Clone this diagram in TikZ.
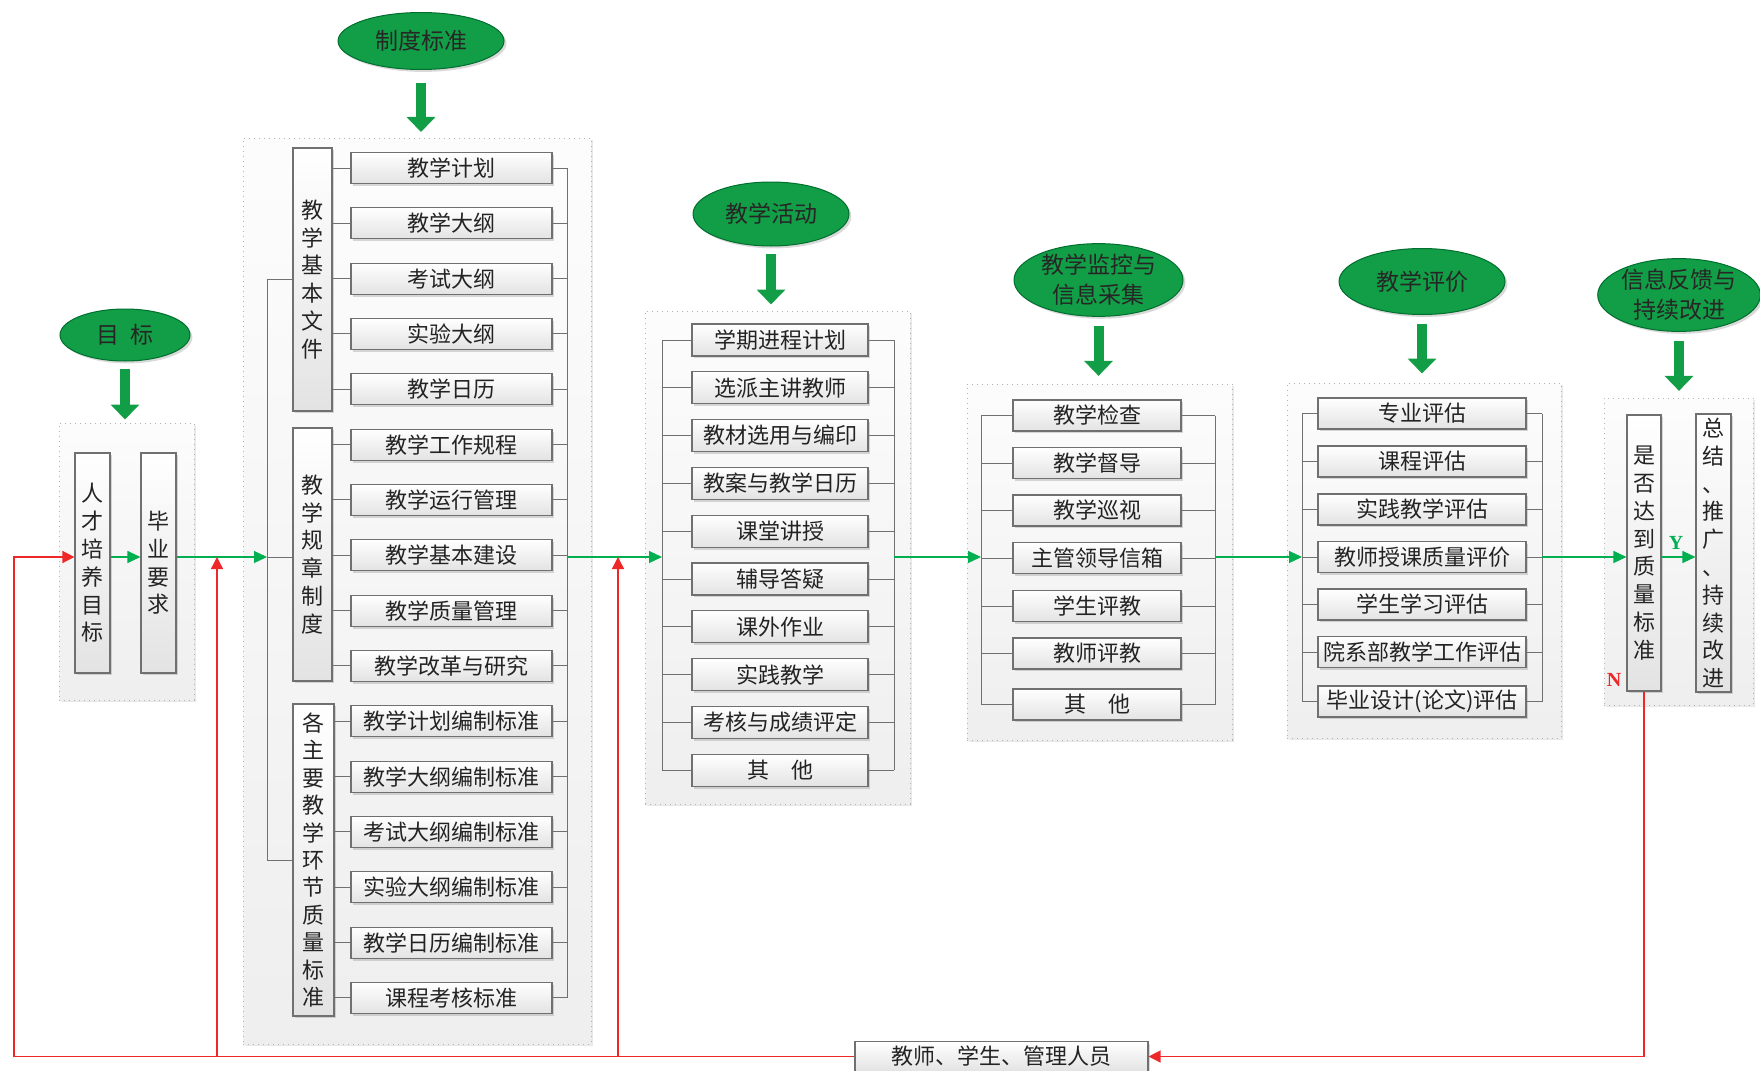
\documentclass[tikz,border=0pt]{standalone}
\usepackage{fontspec}
\setmainfont{Noto Sans CJK SC}
\newfontfamily\lser{Liberation Serif}
\usetikzlibrary{shapes.geometric,shadows,arrows.meta,calc}
\definecolor{eg}{RGB}{18,158,70}
\definecolor{egd}{RGB}{0,110,46}
\definecolor{gl}{RGB}{0,176,80}
\definecolor{bl}{RGB}{112,112,112}
\definecolor{rl}{RGB}{238,40,40}
\definecolor{txt}{RGB}{35,35,35}
\newcommand\fsz{\fontsize{11pt}{12pt}\selectfont}
\newcommand\vfsz{\fontsize{11pt}{13.9pt}\selectfont}
\newcommand\vfszb{\fontsize{11pt}{13.7pt}\selectfont}
\newcommand\efsz{\fontsize{11.5pt}{15pt}\selectfont}
\begin{document}
\begin{tikzpicture}[x=0.5pt,y=-0.5pt,
  wh/.style 2 args={minimum width=#1*0.5pt,minimum height=#2*0.5pt},
  box/.style={draw=bl,line width=0.55pt,top color=white,bottom color=gray!22,inner sep=0pt,text=txt,
    drop shadow={shadow xshift=1.2pt,shadow yshift=-1.2pt,opacity=0.3,fill=gray}},
  itembox/.style={box,font=\fsz},
  vbox/.style={box,font=\vfsz,align=center},
  cont/.style={draw=gray!60,dotted,line width=0.5pt,top color=gray!2,bottom color=gray!13,inner sep=0pt,
    drop shadow={shadow xshift=1.2pt,shadow yshift=-1.2pt,opacity=0.18,fill=gray}},
  ell/.style={ellipse,draw=egd,line width=0.5pt,fill=eg,inner sep=0pt,font=\efsz,text=black!85,align=center,
    drop shadow={shadow xshift=1.2pt,shadow yshift=-1.2pt,opacity=0.3,fill=gray}},
  bigarr/.style={line width=5pt,color=eg,-{Triangle[width=14pt,length=7.5pt]}},
  gline/.style={draw=bl,line width=0.5pt},
  garr/.style={draw=gl,line width=0.55pt,-{Triangle[width=6pt,length=6.5pt]}},
  rline/.style={draw=rl,line width=0.7pt},
  rarr/.style={rline,-{Triangle[width=6pt,length=6pt]}},
]
\useasboundingbox (0,0) rectangle (1760,1070);

% ---------- containers ----------
\node[cont,wh={135}{277}] (c1) at (126.5,561.5) {};
\node[cont,wh={348}{906}] (c2) at (417,591) {};
\node[cont,wh={265}{493}] (c3) at (777.5,557.5) {};
\node[cont,wh={265}{356}] (c4) at (1099.5,562) {};
\node[cont,wh={274}{355}] (c5) at (1424,560.5) {};
\node[cont,wh={149}{307}] (c6) at (1678.5,551.5) {};

% ---------- ellipses ----------
\node[ell,wh={130}{52}] (e1) at (125,335) {目\hspace{0.5em}标};
\node[ell,wh={166}{57}] (e2) at (421,41) {制度标准};
\node[ell,wh={156}{64}] (e3) at (771,214) {教学活动};
\node[ell,wh={169}{66}] (e4) at (1098.5,280) {教学监控与\\信息采集};
\node[ell,wh={166}{66}] (e5) at (1422,281.5) {教学评价};
\node[ell,wh={162}{66}] (e6) at (1679,295) {信息反馈与\\持续改进};

% ---------- big arrows ----------
\draw[bigarr] ($(e1.south)+(0,7)$) -- ++(0,51);
\draw[bigarr] ($(e2.south)+(0,13)$) -- ++(0,49);
\draw[bigarr] ($(e3.south)+(0,7)$) -- ++(0,51);
\draw[bigarr] ($(e4.south)+(0,9)$) -- ++(0,50);
\draw[bigarr] ($(e5.south)+(0,8.5)$) -- ++(0,50);
\draw[bigarr] ($(e6.south)+(0,9)$) -- ++(0,50);

% ---------- main line coordinates ----------
\coordinate (m) at (0,557);
\coordinate (lb2) at (267,557);
\coordinate (rb2) at (567,557);
\coordinate (lb3) at (662,557);
\coordinate (rb3) at (894,557);
\coordinate (lb4) at (981,557);
\coordinate (rb4) at (1215,557);
\coordinate (lb5) at (1302,557);
\coordinate (rb5) at (1542,557);

% ---------- section 1 ----------
\node[vbox,wh={35}{220}] (b11) at (92.5,563) {人\\才\\培\\养\\目\\标};
\node[vbox,wh={35}{220}] (b12) at (158.5,563) {毕\\业\\要\\求};

% ---------- section 2 ----------
\node[vbox,wh={39}{263}] (g1) at (312.5,279.5) {教\\学\\基\\本\\文\\件};
\node[vbox,wh={39}{253}] (g2) at (312.5,554.5) {教\\学\\规\\章\\制\\度};
\node[vbox,wh={41}{312},font=\vfszb] (g3) at (313.5,860) {各\\主\\要\\教\\学\\环\\节\\质\\量\\标\\准};
\foreach \t [count=\i from 0] in {教学计划,教学大纲,考试大纲,实验大纲,教学日历,教学工作规程,教学运行管理,教学基本建设,教学质量管理,教学改革与研究,教学计划编制标准,教学大纲编制标准,考试大纲编制标准,实验大纲编制标准,教学日历编制标准,课程考核标准}
  \node[itembox,wh={201}{31}] (s2i\i) at (451.5,{168+55.33*\i}) {\t};
\foreach \i in {0,...,4} \draw[gline] (g1.east |- s2i\i) -- (s2i\i.west);
\foreach \i in {5,...,9} \draw[gline] (g2.east |- s2i\i) -- (s2i\i.west);
\foreach \i in {10,...,15} \draw[gline] (g3.east |- s2i\i) -- (s2i\i.west);
\foreach \i in {0,...,15} \draw[gline] (s2i\i.east) -- (rb2 |- s2i\i);
\draw[gline] (rb2 |- s2i0) -- (rb2 |- s2i15);
\draw[gline] (g1.west) -- (lb2 |- g1.west) -- (lb2 |- g3.west) -- (g3.west);
\draw[gline] (lb2) -- (g2.west |- lb2);

% ---------- section 3 ----------
\foreach \t [count=\i from 1] in {学期进程计划,选派主讲教师,教材选用与编印,教案与教学日历,课堂讲授,辅导答疑,课外作业,实践教学,考核与成绩评定,其\hspace{1em}他}
  \node[itembox,wh={176}{32}] (s3i\i) at (780,{340+47.8*(\i-1)}) {\t};
\foreach \i in {1,...,10} {
  \draw[gline] (lb3 |- s3i\i) -- (s3i\i.west);
  \draw[gline] (s3i\i.east) -- (rb3 |- s3i\i);
}
\draw[gline] (lb3 |- s3i1) -- (lb3 |- s3i10);
\draw[gline] (rb3 |- s3i1) -- (rb3 |- s3i10);

% ---------- section 4 ----------
\foreach \t/\y [count=\i from 1] in {教学检查/415.5,教学督导/463,教学巡视/510.5,主管领导信箱/558,学生评教/606,教师评教/653.5,其\hspace{1em}他/704.5}
  \node[itembox,wh={168}{31}] (s4i\i) at (1097,\y) {\t};
\foreach \i in {1,...,7} {
  \draw[gline] (lb4 |- s4i\i) -- (s4i\i.west);
  \draw[gline] (s4i\i.east) -- (rb4 |- s4i\i);
}
\draw[gline] (lb4 |- s4i1) -- (lb4 |- s4i7);
\draw[gline] (rb4 |- s4i1) -- (rb4 |- s4i7);

% ---------- section 5 ----------
\foreach \t/\y [count=\i from 1] in {专业评估/413.5,课程评估/461.5,实践教学评估/509.5,教师授课质量评价/557,学生学习评估/604.5,院系部教学工作评估/652,毕业设计(论文)评估/701.5}
  \node[itembox,wh={208}{31}] (s5i\i) at (1422,\y) {\t};
\foreach \i in {1,...,7} {
  \draw[gline] (lb5 |- s5i\i) -- (s5i\i.west);
  \draw[gline] (s5i\i.east) -- (rb5 |- s5i\i);
}
\draw[gline] (lb5 |- s5i1) -- (lb5 |- s5i7);
\draw[gline] (rb5 |- s5i1) -- (rb5 |- s5i7);

% ---------- section 6 ----------
\node[vbox,wh={34}{276}] (q) at (1644,553) {是\\否\\达\\到\\质\\量\\标\\准};
\node[vbox,wh={35}{278}] (z) at (1713.5,553) {总\\结\\、\\推\\广\\、\\持\\续\\改\\进};
\node[text=gl,font=\lser\bfseries\fontsize{10pt}{10pt}\selectfont] (ylab) at (1676,543) {Y};
\node[text=rl,font=\lser\bfseries\fontsize{10pt}{10pt}\selectfont] (nlab) at (1614,680) {N};

% ---------- bottom ----------
\node[itembox,wh={293}{30}] (pp) at (1001.5,1056.5) {教师、学生、管理人员};

% ---------- green flow ----------
\draw[garr] (b11.east |- m) -- (b12.west |- m);
\draw[garr] (b12.east |- m) -- (lb2);
\draw[garr] (rb2) -- (lb3);
\draw[garr] (rb3) -- (lb4);
\draw[garr] (rb4) -- (lb5);
\draw[garr] (rb5) -- (q.west |- m);
\draw[garr] (q.east |- m) -- (z.west |- m);

% ---------- red feedback ----------
\coordinate (rbot) at (14,1056.5);
\coordinate (br1) at (217,1056.5);
\coordinate (br2) at (618,1056.5);
\draw[rarr] (q.south) -- (q.south |- pp.east) -- (pp.east);
\draw[rarr] (pp.west) -- (rbot) -- (rbot |- m) -- (b11.west |- m);
\draw[rarr] (br1) -- (br1 |- m);
\draw[rarr] (br2) -- (br2 |- m);
\end{tikzpicture}
\end{document}
